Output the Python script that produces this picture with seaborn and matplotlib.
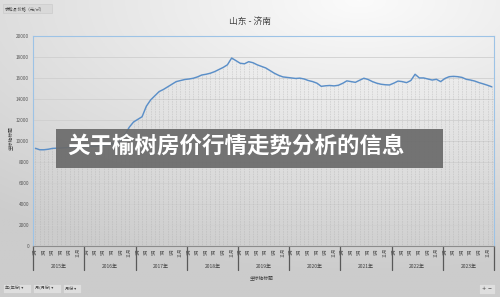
import numpy as np
import pandas as pd
import matplotlib
matplotlib.use("Agg")
import matplotlib.pyplot as plt
import seaborn as sns
from matplotlib.patches import Rectangle, FancyBboxPatch
import matplotlib.transforms as mtransforms

# ---------------- data ----------------
years = ["2015年", "2016年", "2017年", "2018年", "2019年", "2020年", "2021年", "2022年", "2023年"]
month_labels = ["1月", "3月", "5月", "7月", "9月", "11月"]
prices = [
    9290, 9150, 9150, 9200, 9280, 9300, 9320, 9350, 9370, 9380, 9400, 9420,
    9450, 9470, 9480, 9500, 9550, 9650, 9700, 9800, 10000, 10600, 11300, 11800,
    12050, 12300, 13300, 13900, 14300, 14700, 14900, 15150, 15400, 15650, 15750, 15850,
    15900, 15970, 16100, 16280, 16350, 16450, 16600, 16800, 17000, 17250, 17900, 17650,
    17400, 17350, 17550, 17450, 17250, 17100, 16950, 16700, 16450, 16250, 16100, 16050,
    16000, 15950, 15980, 15900, 15750, 15650, 15500, 15200, 15250, 15280, 15240, 15300,
    15480, 15720, 15650, 15580, 15780, 15970, 15850, 15650, 15500, 15400, 15350, 15330,
    15500, 15700, 15650, 15550, 15750, 16350, 16000, 16000, 15900, 15800, 15870, 15650,
    15950, 16120, 16150, 16120, 16050, 15870, 15800, 15700, 15550, 15430, 15300, 15150,
]
y_ticks = [0, 2000, 4000, 6000, 8000, 10000, 12000, 14000, 16000, 18000, 20000]
title = "山东 - 济南"
field_button = "求和项:价格（元/㎡）"
axis_title = "坐标轴标题"
banner = "关于榆树房价行情走势分析的信息"
bottom_buttons = ["年(年份) ▾", "月(月份) ▾", "月份 ▾"]

df = pd.DataFrame({"idx": np.arange(len(prices)), "price": prices})

# ---------------- figure ----------------
sns.set_theme(style="white")
plt.rcParams["font.family"] = ["Noto Sans CJK SC", "DejaVu Sans"]

W, H = 500, 297
fig = plt.figure(figsize=(W / 100, H / 100), dpi=100)

# gradient background
bg = fig.add_axes([0, 0, 1, 1], zorder=-10)
yy, xx = np.mgrid[0:1:200j, 0:1:300j]
d = np.sqrt(((xx - 0.72) * 1.0) ** 2 + ((yy - 0.0) * 1.25) ** 2)
vals = np.clip(0.985 - 0.16 * d, 0.8, 0.985)
bg.imshow(np.dstack([vals, vals, vals]), aspect="auto", extent=[0, 1, 0, 1], origin="upper")
bg.set_xlim(0, 1)
bg.set_ylim(0, 1)
bg.axis("off")

def px_box(x0, y0, x1, y1):
    return [x0 / W, 1 - y1 / H, (x1 - x0) / W, (y1 - y0) / H]

ax = fig.add_axes(px_box(33.3, 36, 494, 245.7))
ax.patch.set_alpha(0)

n = len(prices)
# drop lines
ax.vlines(df["idx"], 0, df["price"], colors="#a8a8a8", linestyles=(0, (1, 2)), linewidth=0.4, zorder=1)
sns.lineplot(data=df, x="idx", y="price", ax=ax, color="#5b8fc8", linewidth=1.05, zorder=3)

ax.set_xlim(-0.5, n - 0.5)
ax.set_ylim(0, 20000)
ax.set_yticks(y_ticks)
ax.set_yticklabels([str(v) for v in y_ticks], fontsize=3.4, color="#595959")
ax.yaxis.grid(True, color="#cfcfcf", linewidth=0.6)
ax.set_axisbelow(True)
ax.tick_params(axis="y", length=0, pad=3)

xt = list(range(0, n, 2))
ax.set_xticks(xt)
ax.set_xticklabels([month_labels[(i % 12) // 2] for i in xt], rotation=90, fontsize=3.2,
                   color="#595959", va="top")
ax.tick_params(axis="x", length=0, pad=1.5)
ax.set_xlabel("")
ax.set_ylabel("")

for s in ["top", "right", "left"]:
    ax.spines[s].set_color("#9dc3e6")
    ax.spines[s].set_linewidth(0.8)
ax.spines["bottom"].set_color("#8c8c8c")
ax.spines["bottom"].set_linewidth(0.8)

trans = mtransforms.blended_transform_factory(ax.transData, ax.transAxes)
# year separators and labels
sep_bottom = -(270 - 245.7) / (245.7 - 36)
for k in range(len(years) + 1):
    xk = k * 12 - 0.5
    ax.plot([xk, xk], [0, sep_bottom], transform=trans, clip_on=False, color="#595959", linewidth=0.9)
for k, yname in enumerate(years):
    ax.text(k * 12 + 5.5, -(266.5 - 245.7) / (245.7 - 36), yname, transform=trans,
            ha="center", va="center", fontsize=3.6, color="#404040")

# titles
fig.text(250 / W, 1 - 21.5 / H, title, ha="center", va="center", fontsize=6.3, color="#404040")
fig.text(262 / W, 1 - 277.5 / H, axis_title, ha="center", va="center", fontsize=3.4, color="#404040")
fig.text(11 / W, 1 - 138 / H, axis_title, ha="center", va="center", rotation=90, fontsize=3.4, color="#404040")

# field buttons
fb = FancyBboxPatch((3 / W, 1 - 13 / H), 49 / W, 9 / H, boxstyle="square,pad=0",
                    transform=fig.transFigure, facecolor="#d9d9d9", edgecolor="#c8c8c8", linewidth=0.4)
fig.patches.append(fb)
fig.text(5 / W, 1 - 8.5 / H, field_button, ha="left", va="center", fontsize=3.0, color="#404040")

bx = 3
widths = [28, 28, 18]
for lab, w in zip(bottom_buttons, widths):
    p = FancyBboxPatch((bx / W, 1 - 293 / H), w / W, 9 / H, boxstyle="square,pad=0",
                       transform=fig.transFigure, facecolor="#dedede", edgecolor="#c8c8c8", linewidth=0.4)
    fig.patches.append(p)
    fig.text((bx + 2) / W, 1 - 288.5 / H, lab, ha="left", va="center", fontsize=3.0, color="#404040")
    bx += w + 2

p = FancyBboxPatch((479 / W, 1 - 294 / H), 16 / W, 10 / H, boxstyle="square,pad=0",
                   transform=fig.transFigure, facecolor="#dedede", edgecolor="#c8c8c8", linewidth=0.4)
fig.patches.append(p)
fig.text(487 / W, 1 - 289 / H, "+ −", ha="center", va="center", fontsize=3.6, color="#404040",
         family=["DejaVu Sans"])

# overlay banner
rect = Rectangle((56 / W, 1 - 167.7 / H), (443 - 56) / W, (167.7 - 129.3) / H,
                 transform=fig.transFigure, facecolor="#6a6a6a", alpha=0.92, edgecolor="none", zorder=20)
fig.patches.append(rect)
fig.text(67 / W, 1 - 146 / H, banner, ha="left", va="center", fontsize=16.2, fontweight="bold",
         color="white", zorder=21)

fig.savefig("out.png", dpi=100)
